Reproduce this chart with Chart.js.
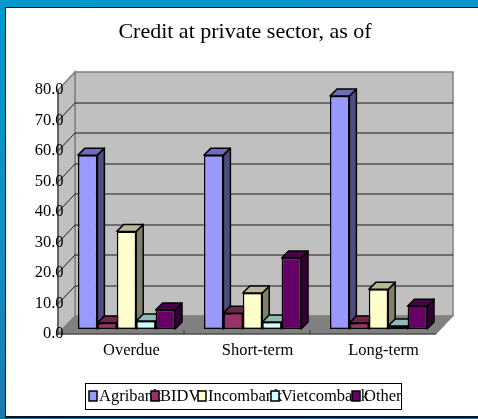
<!DOCTYPE html>
<html>
<head>
<meta charset="utf-8">
<title>Credit at private sector</title>
<script src="https://cdn.jsdelivr.net/npm/chart.js@4"></script>
<style>
    html, body { margin: 0; padding: 0; width: 478px; height: 419px; overflow: hidden; }
    body { position: relative; background: linear-gradient(170deg, #0099cc 0%, #1390c6 45%, #1f6fa8 100%); }
    #panel { position: absolute; left: 5px; top: 7px; width: 473px; height: 408px; background: #fff; border: 1px solid #111; border-right: 0; border-bottom-width: 2px; box-sizing: content-box; }
    #chart { position: absolute; left: 0; top: 0; }
</style>
</head>
<body>
<div id="panel"></div>
<canvas id="chart" width="478" height="419"></canvas>
<script>
const TITLE = 'Credit at private sector, as of';
const CATEGORIES = ['Overdue', 'Short-term', 'Long-term'];
const Y_MAX = 80;
const Y_STEP = 10;

// share of credit per bank
const AGRIBANK = [57.0, 57.0, 76.4];
const BIDV = [2.0, 5.2, 2.0];
const INCOMBANK = [32.0, 11.8, 13.0];
const VIETCOMBANK = [2.6, 2.3, 1.0];
const OTHER = [6.2, 23.3, 7.5];

const SERIF = '"Liberation Serif", "Times New Roman", serif';

function shade(hex, k) {
    let n = parseInt(hex.slice(1), 16);
    let r = Math.round((n >> 16 & 255) * k);
    let g = Math.round((n >> 8 & 255) * k);
    let b = Math.round((n & 255) * k);
    return `rgb(${r}, ${g}, ${b})`;
}

function bank(label, data, color) {
    return {
        label: label,
        data: data,
        backgroundColor: color,
        borderColor: '#000',
        borderWidth: 1.5,
        borderSkipped: false,
        barPercentage: 1,
        categoryPercentage: 0.77
    };
}

function polygon(ctx, pts, fill, stroke, width) {
    ctx.beginPath();
    pts.forEach((p, i) => i ? ctx.lineTo(p[0], p[1]) : ctx.moveTo(p[0], p[1]));
    ctx.closePath();
    if (fill) {
        ctx.fillStyle = fill;
        ctx.fill();
    }
    if (stroke) {
        ctx.strokeStyle = stroke;
        ctx.lineWidth = width;
        ctx.stroke();
    }
}

// walls and floor of the box, drawn behind the axis labels
const box3d = {
    id: 'box3d',
    // title is centred over the panel, not over the whole canvas
    afterLayout(chart) {
        chart.titleBlock.left = 48.5;
    },
    beforeDraw(chart) {
        const ctx = chart.ctx;
        const y = chart.scales.y;
        const a = chart.chartArea;
        const backX = a.left + 11.5, backDy = -13;
        const frontX = a.left - 5.5, frontDy = 5;
        const right = a.right + 11.5, frontRight = a.right - 5.5;
        const y0 = y.getPixelForValue(0), yTop = y.getPixelForValue(Y_MAX);

        ctx.save();
        polygon(ctx, [[backX, yTop + backDy], [right, yTop + backDy], [right, y0 + backDy], [backX, y0 + backDy]], '#c0c0c0', '#808080', 1.5);
        polygon(ctx, [[frontX, yTop + frontDy], [backX, yTop + backDy], [backX, y0 + backDy], [frontX, y0 + frontDy]], '#c0c0c0', '#808080', 1.5);
        polygon(ctx, [[frontX, y0 + frontDy], [frontRight, y0 + frontDy], [right, y0 + backDy], [backX, y0 + backDy]], '#808080', '#808080', 1);

        // grid lines run along the back wall and down the left wall
        for (let v = Y_STEP; v < Y_MAX; v += Y_STEP) {
            let p = Math.round(y.getPixelForValue(v));
            ctx.strokeStyle = '#1a1a1a';
            ctx.lineWidth = 1;
            ctx.beginPath();
            ctx.moveTo(frontX, p + frontDy);
            ctx.lineTo(backX, p + backDy);
            ctx.lineTo(right, p + backDy);
            ctx.stroke();
        }

        ctx.strokeStyle = '#333';
        ctx.lineWidth = 1;
        ctx.beginPath();
        ctx.moveTo(frontX, yTop + frontDy);
        ctx.lineTo(frontX, y0 + frontDy);
        ctx.stroke();

        // category separators on the front edge of the floor
        const step = (a.right - a.left) / CATEGORIES.length;
        ctx.beginPath();
        for (let i = 1; i < CATEGORIES.length; i++) {
            let tx = a.left + step * i - 5.5;
            ctx.moveTo(tx, y0 + frontDy - 4);
            ctx.lineTo(tx, y0 + frontDy);
        }
        ctx.moveTo(frontX, y0 + frontDy);
        ctx.lineTo(frontRight, y0 + frontDy);
        ctx.stroke();
        ctx.restore();
    },
    // side and top faces of each bar, the front face comes from the bar element
    beforeDatasetsDraw(chart) {
        const ctx = chart.ctx;
        const depth = 7;
        ctx.save();
        ctx.lineJoin = 'round';
        chart.data.datasets.forEach((ds, d) => {
            chart.getDatasetMeta(d).data.forEach(bar => {
                const l = bar.x - bar.width / 2, r = bar.x + bar.width / 2;
                const t = bar.y, b = bar.base;
                polygon(ctx, [[r, t], [r + depth, t - depth], [r + depth, b - depth], [r, b]], shade(ds.backgroundColor, 0.5), '#000', 1.5);
                polygon(ctx, [[l, t], [l + depth, t - depth], [r + depth, t - depth], [r, t]], shade(ds.backgroundColor, 0.72), '#000', 1.5);
            });
        });
        ctx.restore();
    }
};

// legend entries sit tightly enough that names run under the next swatch
const tightLegend = {
    id: 'tightLegend',
    afterDraw(chart) {
        const ctx = chart.ctx;
        const swatchX = [89, 151, 198, 271, 352];
        const textX = [99, 160, 208, 281, 364];
        ctx.save();
        ctx.strokeStyle = '#000';
        ctx.lineWidth = 1;
        ctx.strokeRect(85.5, 383.5, 316, 26);
        ctx.font = '16.5px ' + SERIF;
        ctx.fillStyle = '#000';
        ctx.textBaseline = 'middle';
        chart.data.datasets.forEach((ds, i) => ctx.fillText(ds.label, textX[i], 397));
        chart.data.datasets.forEach((ds, i) => {
            ctx.fillStyle = ds.backgroundColor;
            ctx.fillRect(swatchX[i], 391, 8, 10);
            ctx.lineWidth = 1.5;
            ctx.strokeRect(swatchX[i], 391, 8, 10);
        });
        ctx.restore();
    }
};

new Chart(document.getElementById('chart'), {
    type: 'bar',
    data: {
        labels: CATEGORIES,
        datasets: [
            bank('Agribank', AGRIBANK, '#9999ff'),
            bank('BIDV', BIDV, '#993366'),
            bank('Incombank', INCOMBANK, '#ffffcc'),
            bank('Vietcombank', VIETCOMBANK, '#ccffff'),
            bank('Other', OTHER, '#660066')
        ]
    },
    plugins: [box3d, tightLegend],
    options: {
        responsive: false,
        animation: false,
        layout: { padding: { left: 0, right: 36.5, top: 0, bottom: 0 } },
        plugins: {
            legend: { display: false },
            tooltip: { enabled: false },
            title: {
                display: true,
                text: TITLE,
                color: '#000',
                font: { family: SERIF, size: 22, weight: 'normal' },
                padding: { top: 19, bottom: 39.6 }
            }
        },
        scales: {
            x: {
                grid: { display: false },
                border: { display: false },
                afterFit(scale) { scale.height = 90; },
                ticks: {
                    color: '#000',
                    font: { family: SERIF, size: 16.5 },
                    padding: 4,
                    labelOffset: 5,
                    maxRotation: 0
                }
            },
            y: {
                min: 0,
                max: Y_MAX,
                grid: { display: false },
                border: { display: false },
                afterFit(scale) { scale.width = 63.5; },
                ticks: {
                    stepSize: Y_STEP,
                    color: '#000',
                    font: { family: SERIF, size: 16.5 },
                    padding: -8,
                    labelOffset: 5,
                    callback: v => v.toFixed(1)
                }
            }
        }
    }
});
</script>
</body>
</html>
